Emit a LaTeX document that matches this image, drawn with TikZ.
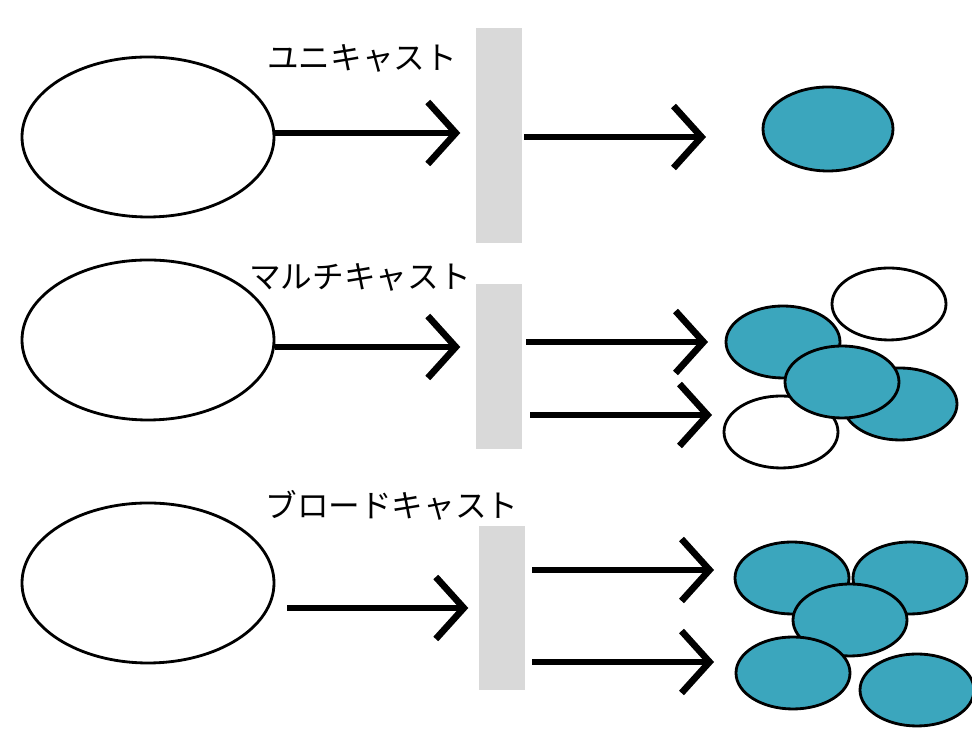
\documentclass[tikz,border=0pt]{standalone}
\usepackage{fontspec}
\newfontfamily\cjk{Noto Sans CJK JP}
\usetikzlibrary{arrows.meta,positioning,shapes.geometric}
\definecolor{castteal}{RGB}{59,166,189}
\definecolor{castgrey}{RGB}{217,217,217}
\tikzset{
  host/.style={draw, ellipse, line width=0.8pt, minimum width=2.52cm, minimum height=1.6cm},
  member/.style={draw, ellipse, line width=0.8pt, fill=castteal, minimum width=1.14cm, minimum height=0.72cm},
  other/.style={member, fill=white},
  router/.style={fill=castgrey, inner sep=0pt, minimum width=0.46cm},
  send/.style={line width=1.9pt, -{Straight Barb[length=0.28cm,width=0.62cm,line width=1.9pt]}},
  lbl/.style={font=\cjk\fontsize{9}{11}\selectfont}
}
\begin{document}
\begin{tikzpicture}
\useasboundingbox (0,0) rectangle (9.72,-7.37);
% Unicast
\node[host] (src1) at (1.48,-1.37) {};
\node[lbl] (uni) at (3.62,-0.58) {ユニキャスト};
\node[router, minimum height=2.15cm] (r1) at (4.99,-1.355) {};
\node[member, minimum width=1.3cm, minimum height=0.84cm] (d1) at (8.28,-1.29) {};
\coordinate (a1) at (2.75,-1.33);
\coordinate (b1) at (5.24,-1.37);
\draw[send] (a1) -- ([xshift=-0.15cm]r1.west |- a1);
\draw[send] (b1) -- (7.06,-1.37);

% Multicast
\node[host] (src2) at (1.48,-3.40) {};
\node[lbl] (multi) at (3.60,-2.77) {マルチキャスト};
\node[router, minimum height=1.65cm] (r2) at (4.99,-3.665) {};
\node[other] (m1) at (8.89,-3.04) {};
\node[member] (m2) at (7.83,-3.42) {};
\node[member] (m3) at (9.00,-4.04) {};
\node[other] (m4) at (7.81,-4.32) {};
\node[member] (m5) at (8.42,-3.82) {};
\coordinate (a2) at (2.75,-3.47);
\coordinate (b2) at (5.26,-3.42);
\coordinate (c2) at (5.30,-4.15);
\draw[send] (a2) -- ([xshift=-0.15cm]r2.west |- a2);
\draw[send] (b2) -- (7.08,-3.42);
\draw[send] (c2) -- (7.12,-4.15);

% Broadcast
\node[host] (src3) at (1.48,-5.83) {};
\node[lbl] (broad) at (3.92,-5.05) {ブロードキャスト};
\node[router, minimum height=1.64cm] (r3) at (5.02,-6.08) {};
\node[member] (n1) at (7.92,-5.78) {};
\node[member] (n2) at (9.10,-5.78) {};
\node[member] (n3) at (8.50,-6.20) {};
\node[member] (n4) at (7.93,-6.73) {};
\node[member] (n5) at (9.17,-6.90) {};
\coordinate (a3) at (2.87,-6.08);
\coordinate (b3) at (5.32,-5.70);
\coordinate (c3) at (5.32,-6.62);
\draw[send] (a3) -- ([xshift=-0.1cm]r3.west |- a3);
\draw[send] (b3) -- (7.14,-5.70);
\draw[send] (c3) -- (7.14,-6.62);
\end{tikzpicture}
\end{document}
